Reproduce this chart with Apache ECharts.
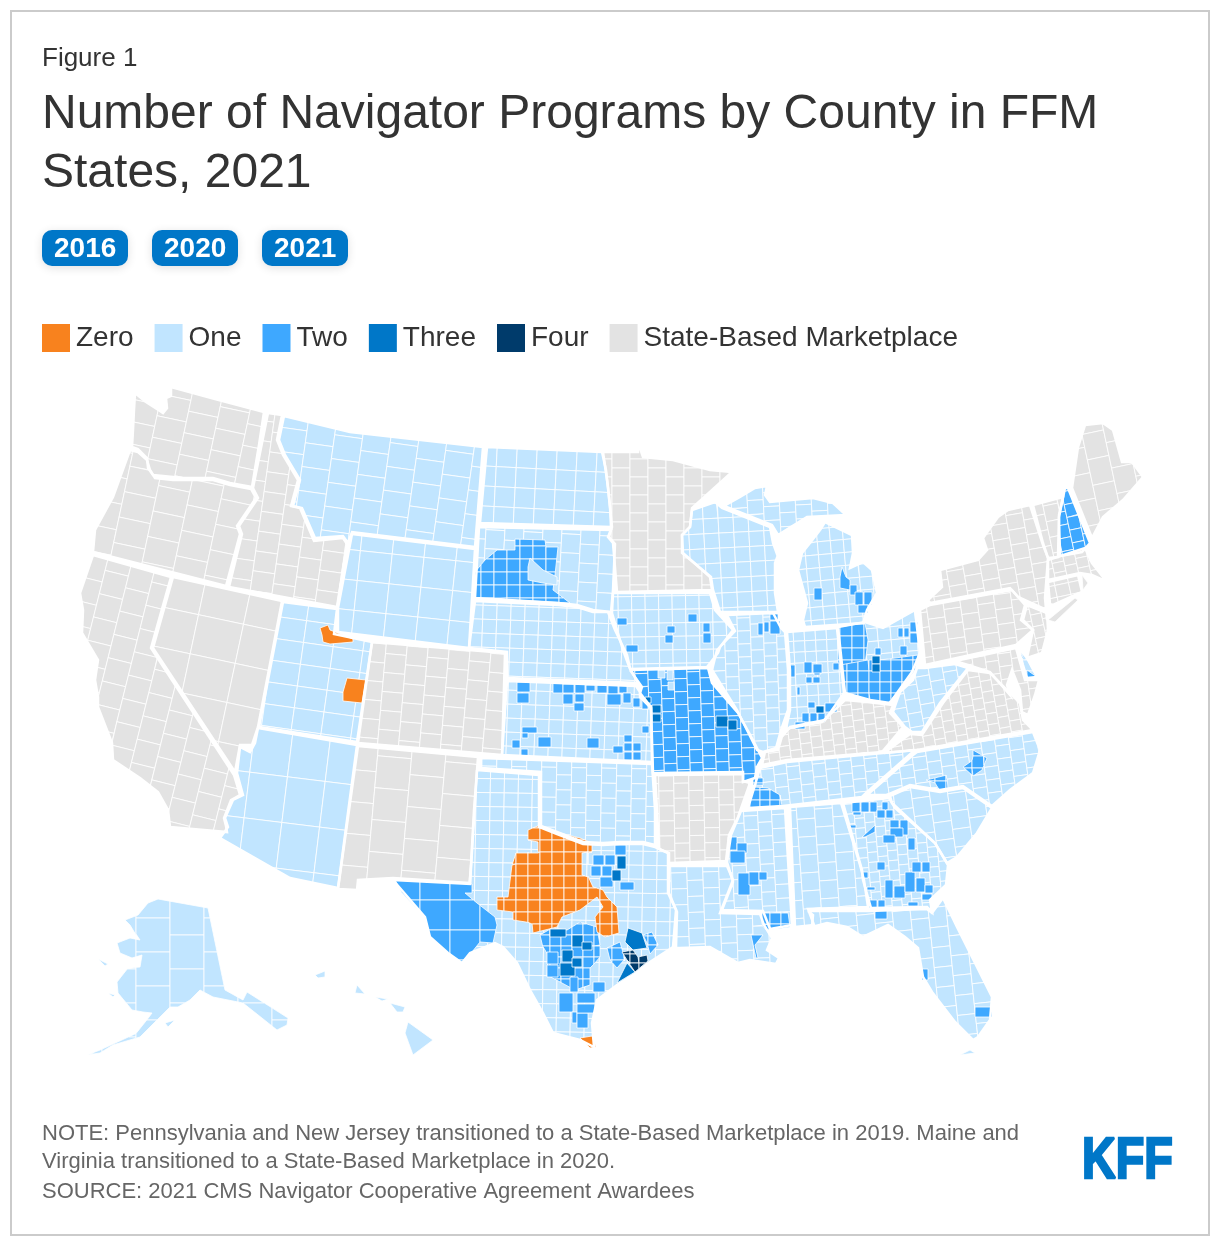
<!DOCTYPE html>
<html>
<head>
<meta charset="utf-8">
<title>Number of Navigator Programs by County in FFM States, 2021</title>
<script src="https://cdn.jsdelivr.net/npm/echarts@6/dist/echarts.min.js"></script>
<style>
    html, body { margin: 0; padding: 0; background: #fff; }
    #main { width: 1220px; height: 1248px; }
</style>
</head>
<body>
<div id="main"></div>
<script>
// number of programs: 0..4, 5 = state-based marketplace
const legendLabels = ['Zero', 'One', 'Two', 'Three', 'Four', 'State-Based Marketplace'];
const legendColors = ['#f8821e', '#c1e5ff', '#3ea8ff', '#0077c8', '#003b6b', '#e3e3e3'];
const yearButtons = ['2016', '2020', '2021'];

// outlines
const stateOutlines = {
    WA: [[135,393],[146,402],[160,411],[163,413],[167,408],[166,398],[171,396],[171,387],[215,399],[264,412],[259,445],[252,487],[230,483],[213,478],[183,478],[173,477],[153,475],[148,468],[147,458],[138,449],[132,447],[133,430],[134,410]],
    OR: [[130,450],[138,452],[147,460],[150,470],[155,478],[173,480],[183,480],[213,480],[230,485],[251,489],[256,498],[237,526],[240,534],[226,586],[93,552],[95,530],[113,497]],
    CA: [[93,555],[171,577],[151,648],[234,775],[240,795],[231,800],[224,818],[226,826],[227,832],[170,827],[168,810],[158,792],[140,778],[113,760],[112,743],[98,707],[98,697],[95,680],[98,660],[82,633],[83,610],[80,593]],
    NV: [[173,577],[282,601],[258,727],[252,745],[240,745],[235,772],[153,648]],
    ID: [[268,413],[282,415],[277,440],[283,455],[298,480],[291,506],[300,508],[314,541],[343,538],[347,544],[337,607],[229,587],[242,534],[239,526],[258,498],[253,488]],
    MT: [[284,416],[350,432],[483,447],[475,547],[352,532],[348,543],[343,536],[315,538],[302,508],[293,506],[300,480],[285,455],[279,440]],
    WY: [[352,534],[475,549],[469,648],[338,632],[338,608]],
    UT: [[283,602],[337,609],[334,634],[372,642],[357,742],[259,727]],
    AZ: [[258,728],[357,745],[338,888],[290,878],[220,838],[228,827],[225,818],[233,800],[243,795],[237,773],[240,747],[250,752],[255,743]],
    CO: [[372,642],[505,653],[502,755],[358,743]],
    NM: [[358,746],[478,757],[474,810],[470,883],[393,878],[358,880],[357,890],[338,889]],
    ND: [[487,447],[602,452],[606,470],[610,507],[611,527],[480,523]],
    SD: [[479,527],[611,530],[609,537],[615,544],[613,590],[611,612],[593,610],[577,605],[558,603],[475,598]],
    NE: [[475,601],[558,605],[577,607],[593,612],[608,612],[615,630],[627,655],[630,668],[638,683],[507,678],[507,652],[469,648]],
    KS: [[507,681],[636,686],[640,692],[640,697],[651,708],[652,762],[502,755]],
    OK: [[481,758],[652,764],[655,810],[655,845],[643,842],[620,842],[603,843],[583,842],[557,832],[541,826],[541,772],[481,768]],
    TX: [[477,770],[539,775],[539,827],[557,834],[583,844],[603,845],[620,844],[643,844],[655,847],[668,853],[668,893],[676,910],[673,947],[650,962],[635,974],[617,985],[597,1000],[592,1023],[594,1047],[580,1040],[553,1033],[543,1013],[530,990],[517,963],[503,947],[495,943],[470,953],[462,963],[448,953],[430,937],[425,917],[393,880],[470,884]],
    MN: [[603,452],[638,452],[638,442],[643,457],[673,460],[710,470],[732,472],[692,508],[690,527],[682,535],[683,553],[710,577],[712,590],[617,592],[613,543],[608,537],[612,527],[608,487]],
    IA: [[613,593],[710,593],[715,610],[733,630],[720,647],[718,653],[707,667],[630,669],[623,650],[620,640],[612,613]],
    MO: [[630,670],[708,668],[712,683],[738,713],[753,740],[762,758],[757,767],[755,778],[743,782],[743,772],[653,773],[651,707],[640,693],[642,687]],
    AR: [[655,775],[743,774],[743,781],[750,783],[738,817],[729,835],[726,861],[669,863],[669,853],[659,849],[657,810]],
    LA: [[669,866],[727,866],[733,880],[720,913],[760,914],[764,925],[772,938],[767,950],[779,958],[776,964],[750,960],[738,963],[710,947],[680,948],[676,948],[677,912],[669,893]],
    MS: [[741,811],[785,808],[788,860],[792,925],[770,929],[763,911],[722,910],[733,882],[727,862],[731,835]],
    AL: [[790,807],[841,803],[860,865],[864,880],[868,907],[808,909],[814,925],[795,927]],
    GA: [[843,803],[889,798],[895,808],[935,843],[948,865],[946,885],[930,900],[932,912],[927,907],[871,908],[863,880],[862,870]],
    FL: [[808,911],[868,911],[927,909],[932,913],[943,898],[957,927],[972,957],[992,997],[990,1020],[978,1037],[973,1040],[955,1022],[932,992],[923,977],[918,948],[905,937],[888,925],[863,937],[847,927],[827,923],[812,927],[813,915]],
    SC: [[890,796],[910,787],[940,792],[963,788],[992,808],[977,833],[957,857],[947,863],[935,843],[892,803]],
    NC: [[917,752],[1033,732],[1040,750],[1033,773],[1010,790],[992,806],[963,786],[940,790],[910,785],[887,795],[867,795],[913,755]],
    TN: [[787,762],[915,750],[866,793],[862,797],[783,806],[748,808],[755,785],[760,768]],
    KY: [[762,765],[765,752],[778,750],[783,733],[790,728],[822,722],[845,700],[867,702],[893,705],[890,713],[903,727],[882,752],[787,760]],
    VA: [[884,753],[910,734],[922,735],[943,703],[968,670],[990,673],[1020,703],[1023,720],[1033,730],[917,750]],
    WV: [[896,703],[893,712],[905,727],[912,732],[922,732],[940,703],[968,668],[955,664],[925,668],[917,668],[913,680],[900,692]],
    OH: [[838,627],[865,622],[883,628],[915,610],[920,653],[912,672],[897,693],[890,703],[870,700],[845,693]],
    IN: [[787,632],[837,628],[844,693],[825,720],[790,727],[785,733],[790,710],[790,670]],
    IL: [[727,615],[773,613],[781,628],[785,632],[788,670],[788,710],[781,730],[776,748],[763,752],[757,750],[737,710],[712,670],[717,650],[735,631]],
    WI: [[692,510],[715,502],[722,508],[770,527],[773,543],[778,557],[783,542],[775,563],[775,593],[778,612],[720,612],[713,590],[711,577],[682,553],[682,535],[690,527]],
    MIU: [[724,506],[740,497],[755,488],[767,486],[765,495],[770,502],[813,498],[833,503],[846,515],[807,517],[778,535],[772,525]],
    MIL: [[820,530],[825,522],[852,535],[853,553],[850,568],[863,562],[872,570],[877,593],[867,610],[863,623],[805,627],[803,620],[807,603],[798,570],[802,553],[810,543]],
    ME: [[1085,425],[1103,423],[1113,430],[1122,462],[1132,462],[1143,477],[1123,500],[1103,517],[1092,538],[1072,488],[1078,447]],
    NH: [[1065,488],[1068,488],[1090,543],[1082,552],[1060,556],[1059,517]],
    VT: [[1033,505],[1063,497],[1059,515],[1058,557],[1048,558],[1043,543]],
    NY: [[930,603],[1010,588],[1018,597],[1047,610],[1047,620],[1045,598],[1048,558],[1043,545],[1030,505],[1008,510],[998,517],[983,538],[987,550],[978,560],[940,570],[942,587],[928,600]],
    MA: [[1048,560],[1085,548],[1092,563],[1103,577],[1113,570],[1103,580],[1092,575],[1080,573],[1048,580]],
    CT: [[1048,582],[1078,575],[1082,592],[1053,605],[1050,604]],
    PA: [[920,610],[930,605],[1012,590],[1025,605],[1021,620],[1033,630],[1016,645],[925,665]],
    NJ: [[1027,605],[1047,613],[1048,630],[1042,653],[1027,658],[1033,630],[1023,620]],
    DE: [[1018,647],[1027,658],[1037,677],[1027,678],[1023,665]],
    MD: [[927,667],[1016,648],[1025,680],[1039,680],[1035,695],[1028,715],[1022,712],[1020,690],[1012,670],[1007,685],[1010,695],[990,672],[968,665],[955,661],[927,665]]
};

// islands and other small pieces, no thick state line around these
const smallOutlines = {
    LI: [[1048,620],[1075,598],[1078,600],[1055,622]],
    RI: [[1082,575],[1088,583],[1083,590]],
    AK: [[158,899],[208,908],[225,990],[243,1000],[247,992],[288,1018],[287,1025],[277,1030],[243,1003],[213,997],[200,990],[190,1000],[178,1007],[170,1007],[155,1022],[140,1037],[113,1045],[100,1053],[87,1055],[100,1050],[137,1033],[152,1013],[143,1012],[132,1010],[118,993],[117,982],[128,968],[140,967],[142,955],[132,958],[120,953],[117,943],[130,938],[140,940],[130,925],[125,920],[138,915],[148,903]],
    AK2: [[165,1023],[175,1020],[168,1027]],
    AK3: [[98,959],[108,964],[105,966]],
    AK4: [[108,993],[115,995],[113,997]],
    HI1: [[408,1022],[433,1040],[413,1055],[405,1033]],
    HI2: [[390,1003],[405,1007],[403,1012],[397,1012]],
    HI3: [[375,997],[388,999],[382,1001]],
    HI4: [[357,985],[365,994],[355,993]],
    HI5: [[315,975],[325,971],[325,977],[318,978]],
    FLK: [[960,1055],[970,1050],[975,1053]]
};

const stateClass = {
    WA:5, OR:5, CA:5, NV:5, ID:5, MT:1, WY:1, UT:1, AZ:1, CO:5, NM:5, ND:1, SD:1, NE:1, KS:1, OK:1, TX:1,
    MN:5, IA:1, MO:2, AR:5, LA:1, MS:1, AL:1, GA:1, FL:1, SC:1, NC:1, TN:1, KY:5, VA:5, WV:1, OH:1, IN:1, IL:1,
    WI:1, MIU:1, MIL:1, ME:5, NH:2, VT:5, NY:5, LI:5, MA:5, CT:5, RI:5, PA:5, NJ:5, DE:1, MD:5,
    AK:1, AK2:1, AK3:1, AK4:1, HI1:1, HI2:1, HI3:1, HI4:1, HI5:1, FLK:1
};

// typical county [width, height, tilt in degrees, brick layout]
const countySize = {
    WA:[30,22,12,1], OR:[32,26,12,1], CA:[24,24,14,1], NV:[46,40,12,0], ID:[22,20,8,1], MT:[28,24,8,1], WY:[32,30,6,0],
    UT:[30,22,8,0], AZ:[38,46,7,0], CO:[21,19,5,1], NM:[34,32,5,1], ND:[20,20,3,0], SD:[19,19,3,1], NE:[14,14,2,0],
    KS:[14,14,2,0], OK:[15,15,1,1], TX:[14,14,1,0], MN:[18,18,0,1], IA:[13.5,13.5,-1,0], MO:[13,13,-2,1], AR:[15,15,-1,1],
    LA:[16,16,-2,1], MS:[14,14,-3,1], AL:[18,18,-4,1], GA:[10,10,-5,1], FL:[18,20,-6,1], SC:[18,18,-8,1], NC:[14,13,-8,1],
    TN:[13,13,-6,1], KY:[11,11,-7,1], VA:[11,11,-10,1], WV:[14,14,-10,1], OH:[13,13,-5,0], IN:[11,11,-3,0], IL:[13,13,-2,1],
    WI:[15,15,-3,0], MIU:[16,14,-3,1], MIL:[13,13,-5,0], ME:[22,26,-12,1], NH:[12,13,-12,1], VT:[15,16,-12,1], NY:[17,15,-10,1],
    PA:[17,15,-8,1], MA:[12,10,-12,1], CT:[14,12,-12,0], NJ:[11,12,-12,1], DE:[14,11,0,0], MD:[13,13,-8,1], AK:[34,34,0,1]
};

// single counties that differ from their state, as [x0, y0, x1, y1]
const oneBlocks = [[658,670,665,678],[667,670,673,680],[668,682,674,690]];
const twoBlocks = [
    [617,618,627,625],[688,614,697,622],[667,626,675,633],[665,635,673,643],[703,623,710,632],[703,633,711,643],[626,645,638,652],
    [758,623,763,635],[764,622,769,632],[770,621,780,634],[770,614,778,620],
    [517,682,530,692],[517,693,529,703],[553,683,563,693],[563,684,574,693],[575,684,585,693],[563,694,573,704],[575,694,584,702],[574,703,584,711],
    [586,685,595,691],[597,685,607,693],[608,685,618,694],[619,685,627,693],[607,694,621,705],[623,693,631,703],[633,698,640,707],[642,699,648,709],
    [642,726,649,733],[522,727,537,733],[522,733,528,738],[512,740,520,748],[521,749,528,757],[538,737,551,747],[587,738,599,748],[613,746,623,753],
    [624,735,632,742],[624,743,632,751],[633,743,641,751],[624,752,632,760],[633,752,641,760],
    [593,855,604,865],[605,855,615,865],[591,866,601,876],[602,866,612,876],[615,845,626,855],[600,877,613,887],[620,882,634,890],
    [808,702,815,708],[802,713,809,722],[810,713,817,722],[795,722,805,729],[825,703,837,712],[818,713,825,722],[797,687,800,695],[806,677,812,683],
    [813,677,820,683],[814,670,820,675],[789,665,795,677],[804,662,812,673],[813,664,822,673],[833,663,839,670],
    [898,628,903,637],[904,628,909,637],[910,622,918,632],[910,633,918,643],[900,646,907,655],[875,648,881,655],
    [850,585,857,595],[855,592,863,605],[864,592,872,605],[858,605,868,613],[814,588,822,600],
    [852,802,860,812],[861,802,869,812],[870,802,877,812],[853,812,861,815],[882,802,888,810],[877,810,885,818],[886,810,893,818],[890,820,899,828],
    [900,820,908,835],[890,828,903,837],[883,835,895,843],[848,825,856,828],[908,838,915,850],[877,862,885,870],[862,872,868,878],[867,887,875,890],
    [885,880,893,898],[894,886,905,898],[905,872,915,892],[916,878,925,892],[912,862,921,872],[922,862,930,872],[925,885,933,893],[922,894,932,900],
    [908,902,918,906],[869,900,877,908],[878,900,885,908],[875,910,887,919],
    [738,873,750,895],[749,872,759,885],[759,872,767,880],[922,969,928,980],[975,1007,992,1017],
    [559,993,573,1012],[572,1012,577,1023],[577,1013,588,1028],[577,993,595,1003],[577,1004,595,1013],[593,982,605,992],[570,977,578,992],[547,952,558,964],[547,965,558,977],
    [728,837,737,850],[737,843,747,853],[730,851,745,863]
];
const threeBlocks = [
    [645,697,651,703],[652,705,661,713],[652,714,661,722],[716,716,728,727],[728,720,737,730],[816,706,824,713],
    [617,856,626,869],[612,870,621,881],[550,929,566,937],[562,950,573,962],[560,963,575,976],[572,935,583,947],[582,942,592,950],[572,958,582,967],
    [872,656,880,664],[872,664,880,672]
];

// larger areas as [county size, outline], 0 = a single county
const zeroAreas = [
    [0, [[320,628],[328,625],[330,630],[353,639],[353,642],[330,644],[323,642],[322,635]]],
    [0, [[347,678],[366,680],[362,703],[343,701],[343,692]]],
    [0, [[580,1038],[592,1036],[596,1047],[590,1048]]],
    [12, [[528,830],[540,825],[560,833],[580,838],[592,843],[592,853],[582,853],[582,875],[588,877],[593,887],[603,890],[607,897],[617,907],[619,933],[605,937],[597,932],[595,917],[603,907],[597,897],[580,910],[562,917],[557,927],[533,933],[532,923],[513,920],[513,912],[497,910],[497,897],[508,897],[512,865],[516,853],[538,853],[538,842],[528,840]]]
];
const oneAreas = [
    [0, [[530,558],[543,570],[557,577],[557,585],[543,583],[528,580],[528,567]]]
];
const twoAreas = [
    [13, [[515,539],[545,540],[546,547],[558,547],[555,575],[553,590],[570,603],[475,598],[475,572],[485,560],[497,550],[515,550]]],
    [30, [[395,880],[472,884],[472,893],[465,893],[477,903],[495,917],[497,925],[493,943],[480,942],[472,952],[462,963],[448,953],[430,937],[425,917],[402,893]]],
    [11, [[540,935],[552,928],[567,930],[580,922],[597,927],[600,945],[600,958],[590,968],[590,985],[575,990],[547,975],[548,955],[542,945]]],
    [9, [[643,935],[652,932],[658,945],[650,954],[647,943]]],
    [12, [[607,948],[620,942],[625,960],[617,968],[610,960]]],
    [12, [[973,750],[987,758],[982,770],[973,776],[963,767],[973,760]]],
    [11, [[926,780],[947,775],[948,790],[940,791],[935,783]]],
    [10, [[750,798],[755,787],[768,788],[780,795],[782,806],[748,808]]],
    [9, [[753,778],[763,778],[763,785],[753,785]]],
    [12, [[838,627],[865,623],[868,640],[865,665],[838,665]]],
    [11, [[840,665],[868,660],[880,660],[918,655],[915,670],[897,693],[888,703],[870,700],[845,693]]],
    [0, [[842,567],[846,577],[850,580],[850,590],[840,588],[840,577]]],
    [0, [[862,837],[875,825],[875,832],[865,837]]],
    [11, [[762,912],[788,912],[790,927],[766,930],[762,925]]],
    [0, [[751,935],[763,935],[755,945],[758,958],[756,958]]],
    [0, [[1018,647],[1023,658],[1021,660]]],
    [0, [[1027,670],[1037,677],[1027,678]]]
];
const threeAreas = [
    [0, [[628,928],[642,933],[647,948],[633,950],[625,942]]],
    [0, [[617,983],[627,963],[635,972]]]
];
const fourAreas = [
    [9, [[622,952],[633,950],[638,957],[647,955],[648,961],[635,972],[627,960]]]
];

// keep the part of a polygon on one side of an axis line
function clipSide(points, axis, limit, keepBelow) {
    let out = [];
    for (let i = 0; i < points.length; i++) {
        let a = points[i], b = points[(i + 1) % points.length];
        let aIn = keepBelow ? a[axis] <= limit : a[axis] >= limit;
        let bIn = keepBelow ? b[axis] <= limit : b[axis] >= limit;
        if (aIn) out.push(a);
        if (aIn !== bIn) {
            let t = (limit - a[axis]) / (b[axis] - a[axis]);
            out.push([a[0] + (b[0] - a[0]) * t, a[1] + (b[1] - a[1]) * t]);
        }
    }
    return out;
}

function polygonArea(points) {
    let sum = 0;
    for (let i = 0; i < points.length; i++) {
        let a = points[i], b = points[(i + 1) % points.length];
        sum += a[0] * b[1] - b[0] * a[1];
    }
    return Math.abs(sum) / 2;
}

// cut an outline into county shaped cells
function cutCounties(outline, size) {
    if (!size) return [outline];
    let w = size[0], h = size[1], tilt = (size[2] || 0) * Math.PI / 180, brick = size[3];
    let cos = Math.cos(tilt), sin = Math.sin(tilt);
    let turned = outline.map(p => [p[0] * cos + p[1] * sin, -p[0] * sin + p[1] * cos]);
    let xs = turned.map(p => p[0]), ys = turned.map(p => p[1]);
    let x0 = Math.floor(Math.min(...xs) / w), x1 = Math.ceil(Math.max(...xs) / w);
    let y0 = Math.floor(Math.min(...ys) / h) - 1, y1 = Math.ceil(Math.max(...ys) / h) + 1;
    let cells = [];
    for (let i = x0; i < x1; i++) {
        let shift = brick && (i % 2 !== 0) ? h / 2 : 0;
        let col = clipSide(clipSide(turned, 0, i * w, false), 0, (i + 1) * w, true);
        if (col.length < 3) continue;
        for (let j = y0; j < y1; j++) {
            let cell = clipSide(clipSide(col, 1, j * h + shift, false), 1, (j + 1) * h + shift, true);
            if (cell.length < 3 || polygonArea(cell) < 0.5) continue;
            cells.push(cell.map(p => [p[0] * cos - p[1] * sin, p[0] * sin + p[1] * cos]));
        }
    }
    return cells;
}

function blockOutline(b) {
    return [[b[0], b[1]], [b[2], b[1]], [b[2], b[3]], [b[0], b[3]]];
}

let features = [], countyData = [];

function addCounty(points, cls) {
    let name = 'c' + features.length;
    features.push({
        type: 'Feature',
        properties: { name: name },
        geometry: { type: 'Polygon', coordinates: [points.concat([points[0]])] }
    });
    countyData.push({ name: name, value: cls });
}

[stateOutlines, smallOutlines].forEach(function (shapes) {
    Object.keys(shapes).forEach(function (st) {
        cutCounties(shapes[st], countySize[st]).forEach(c => addCounty(c, stateClass[st]));
    });
});
[[twoAreas, 2], [oneAreas, 1], [zeroAreas, 0], [threeAreas, 3], [fourAreas, 4]].forEach(function (group) {
    group[0].forEach(function (area) {
        let size = area[0] ? [area[0], area[0], 0, 0] : null;
        cutCounties(area[1], size).forEach(c => addCounty(c, group[1]));
    });
});
[[oneBlocks, 1], [twoBlocks, 2], [threeBlocks, 3]].forEach(function (group) {
    group[0].forEach(b => addCounty(blockOutline(b), group[1]));
});

echarts.registerMap('counties', { type: 'FeatureCollection', features: features });

let stateLines = Object.keys(stateOutlines).map(function (st) {
    let o = stateOutlines[st];
    return { coords: o.concat([o[0]]) };
});

let myChart = echarts.init(document.getElementById('main'), null, { renderer: 'canvas' });
const fontName = '"Liberation Sans", Arial, sans-serif';

function textTitle(text, top, size, color, lineHeight) {
    return {
        text: text, left: 42, top: top, padding: 0,
        textStyle: { fontFamily: fontName, fontSize: size, fontWeight: 'normal', color: color, lineHeight: lineHeight }
    };
}

let buttons = [];
yearButtons.forEach(function (year, i) {
    buttons.push({
        type: 'rect',
        shape: { x: 42 + i * 110, y: 230, width: 86, height: 36, r: 10 },
        style: { fill: '#0077c8', shadowBlur: 10, shadowColor: 'rgba(0,0,0,0.12)', shadowOffsetY: 2 }
    });
    buttons.push({
        type: 'text', left: 54 + i * 110, top: 235,
        style: { text: year, fill: '#fff', font: 'bold 28px ' + fontName }
    });
});

let option = {
    backgroundColor: '#fff',
    animation: false,
    title: [
        textTitle('Figure 1', 45, 26, '#333', 28),
        textTitle('Number of Navigator Programs by County in FFM\nStates, 2021', 85, 48, '#333', 59),
        textTitle('NOTE: Pennsylvania and New Jersey transitioned to a State-Based Marketplace in 2019. Maine and\nVirginia transitioned to a State-Based Marketplace in 2020.', 1120, 22, '#666', 28),
        textTitle('SOURCE: 2021 CMS Navigator Cooperative Agreement Awardees', 1178, 22, '#666', 28)
    ],
    visualMap: {
        type: 'piecewise',
        orient: 'horizontal',
        left: 42, top: 324, padding: 0,
        itemWidth: 28, itemHeight: 28, itemGap: 21, textGap: 6,
        itemSymbol: 'rect',
        selectedMode: false,
        hoverLink: false,
        seriesIndex: 0,
        textStyle: { fontFamily: fontName, fontSize: 28, color: '#333' },
        pieces: legendLabels.map((label, i) => ({ value: i, label: label, color: legendColors[i] }))
    },
    geo: {
        map: 'counties',
        left: 0, top: 0, width: 1220, height: 1248,
        aspectScale: 1,
        boundingCoords: [[0, 0], [1220, 1248]],
        projection: { project: p => p, unproject: p => p },
        roam: false,
        silent: true,
        label: { show: false },
        itemStyle: { areaColor: '#fff', borderColor: '#fff', borderWidth: 0.8 }
    },
    series: [
        {
            type: 'map',
            geoIndex: 0,
            silent: true,
            data: countyData
        },
        {
            type: 'lines',
            coordinateSystem: 'geo',
            geoIndex: 0,
            polyline: true,
            silent: true,
            lineStyle: { color: '#fff', width: 2.5, opacity: 1 },
            data: stateLines
        }
    ],
    graphic: [
        {
            type: 'rect',
            shape: { x: 11, y: 11, width: 1198, height: 1224 },
            style: { fill: 'none', stroke: '#cbcbcb', lineWidth: 2 }
        }
    ].concat(buttons, [
        {
            type: 'text', left: 1081, top: 1133, scaleX: 0.82,
            style: { text: 'KFF', fill: '#0077c8', stroke: '#0077c8', lineWidth: 2.5, font: 'bold 57px ' + fontName }
        }
    ])
};

myChart.setOption(option);
</script>
</body>
</html>
